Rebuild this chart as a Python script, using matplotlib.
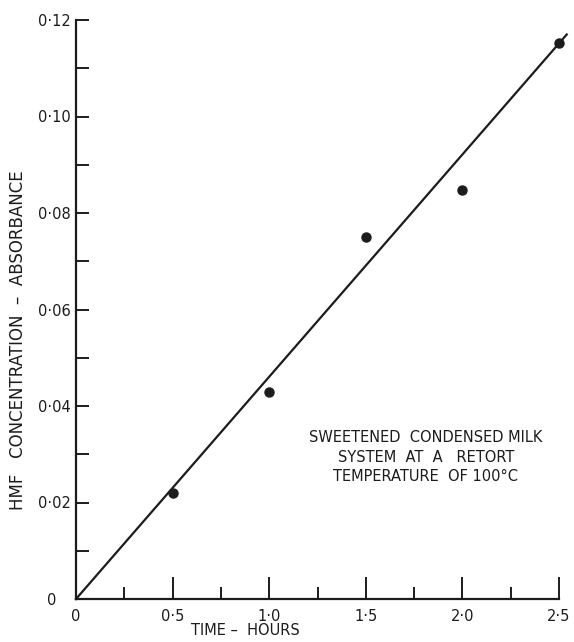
import matplotlib.pyplot as plt
from matplotlib.ticker import MultipleLocator

# data
time_h = [0.5, 1.0, 1.5, 2.0, 2.5]
absorb = [0.022, 0.043, 0.075, 0.0848, 0.1152]

fit_x = [0.0, 2.54]
fit_y = [0.0, 0.117]

x_ticks = [0, 0.5, 1.0, 1.5, 2.0, 2.5]
x_labels = ['0', '0·5', '1·0', '1·5', '2·0', '2·5']
y_ticks = [0, 0.02, 0.04, 0.06, 0.08, 0.10, 0.12]
y_labels = ['0   ', '0·02', '0·04', '0·06', '0·08', '0·10', '0·12']

ink = '#1c1c1c'

fig = plt.figure(figsize=(5.74, 6.42), dpi=100)
ax = fig.add_axes([76 / 574, 1 - 599 / 642, 483 / 574, 579 / 642])

ax.plot(fit_x, fit_y, color=ink, lw=1.6, clip_on=False)
ax.plot(time_h, absorb, 'o', color=ink, ms=6.5, clip_on=False)

ax.set_xlim(0, 2.5)
ax.set_ylim(0, 0.12)

for s in ['top', 'right']:
    ax.spines[s].set_visible(False)
for s in ['left', 'bottom']:
    ax.spines[s].set_linewidth(1.6)
    ax.spines[s].set_color(ink)

ax.set_xticks(x_ticks)
ax.set_xticklabels(x_labels)
ax.set_yticks(y_ticks)
ax.set_yticklabels(y_labels)
ax.xaxis.set_minor_locator(MultipleLocator(0.25))
ax.yaxis.set_minor_locator(MultipleLocator(0.01))

ax.tick_params(axis='x', which='major', direction='in', length=16, width=1.4,
               color=ink, labelcolor=ink, labelsize=10.5, pad=7)
ax.tick_params(axis='x', which='minor', direction='in', length=9, width=1.4, color=ink)
ax.tick_params(axis='y', which='both', direction='in', length=9, width=1.4,
               color=ink, labelcolor=ink, labelsize=10.5, pad=4)

ax.set_ylabel('HMF   CONCENTRATION  –  ABSORBANCE', fontsize=12, color=ink, va='center')
ax.yaxis.set_label_coords(-0.12, 0.447)
ax.set_xlabel('TIME –  HOURS', fontsize=10.5, color=ink, va='center')
ax.xaxis.set_label_coords(0.35, -0.054)

ax.text(1.81, 0.0294,
        'SWEETENED  CONDENSED MILK\nSYSTEM  AT  A   RETORT\nTEMPERATURE  OF 100°C',
        ha='center', va='center', fontsize=10.5, color=ink, linespacing=1.35)

fig.savefig('out.png', dpi=100)
